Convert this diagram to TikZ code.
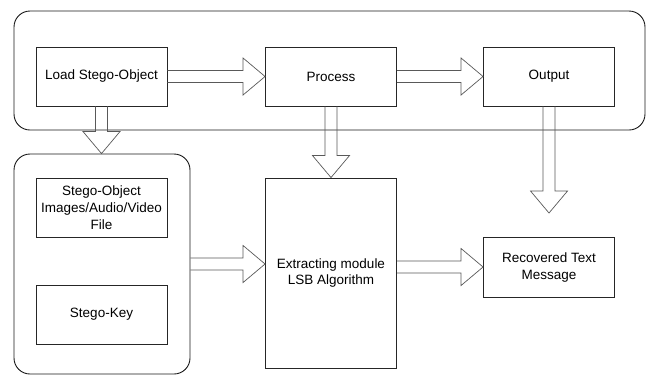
\documentclass[tikz,border=0pt]{standalone}
\usepackage{fontspec}
\setmainfont{Liberation Sans}
\usetikzlibrary{calc, positioning}

% fat outline arrows, right and down
\newcommand{\rarrow}[2]{\draw[fatarrow] let \p1=#1, \p2=#2 in
  (\x1,\y1+6pt) -- (\x2-22pt,\y1+6pt) -- (\x2-22pt,\y1+18.5pt) -- (\x2,\y1)
  -- (\x2-22pt,\y1-18.5pt) -- (\x2-22pt,\y1-6pt) -- (\x1,\y1-6pt);}
\newcommand{\darrow}[2]{\draw[fatarrow] let \p1=#1, \p2=#2 in
  (\x1-6pt,\y1) -- (\x1-6pt,\y2+22pt) -- (\x1-18.5pt,\y2+22pt) -- (\x1,\y2)
  -- (\x1+18.5pt,\y2+22pt) -- (\x1+6pt,\y2+22pt) -- (\x1+6pt,\y1);}

\begin{document}
\begin{tikzpicture}[
    x=1pt, y=-1pt,
    font=\fontsize{13.5}{17}\selectfont,
    box/.style={draw=black!85, line width=0.9pt, minimum width=131pt, minimum height=59pt, inner sep=1pt, align=center},
    group/.style={draw=black!90, line width=0.9pt, rounded corners=16pt, inner sep=0pt},
    fatarrow/.style={draw=black!65, line width=0.7pt, line join=miter}
]
   \useasboundingbox (0,0) rectangle (647,376);

   % Containers
   \node[group, minimum width=631pt, minimum height=119pt] (top) at (329.5,70.5) {};
   \node[group, minimum width=176pt, minimum height=220pt] (side) at (102,264) {};

   % Boxes
   \node[box] (load) at (101.5,76.5) {Load Stego-Object};
   \node[box] (process) at (331,76.5) {Process};
   \node[box] (output) at (549,76.5) {Output};

   \node[box] (stegoobj) at (101.5,207.5) {Stego-Object\\Images/Audio/Video\\File};
   \node[box] (stegokey) at (101.5,314.5) {Stego-Key};

   \node[box, minimum height=190pt] (extract) at (331,273) {Extracting module\\LSB Algorithm};
   \node[box, minimum height=60pt] (recovered) at (549,267) {Recovered Text\\Message};

   \coordinate (outend) at (549,213);

   % Arrows
   \rarrow{(load.east)}{(process.west)}
   \rarrow{(process.east)}{(output.west)}
   \darrow{(load.south)}{(side.north)}
   \darrow{(process.south)}{(extract.north)}
   \darrow{(output.south)}{(outend)}
   \rarrow{(side.east)}{(extract.west)}
   \rarrow{(extract.east |- recovered.west)}{(recovered.west)}
\end{tikzpicture}
\end{document}
